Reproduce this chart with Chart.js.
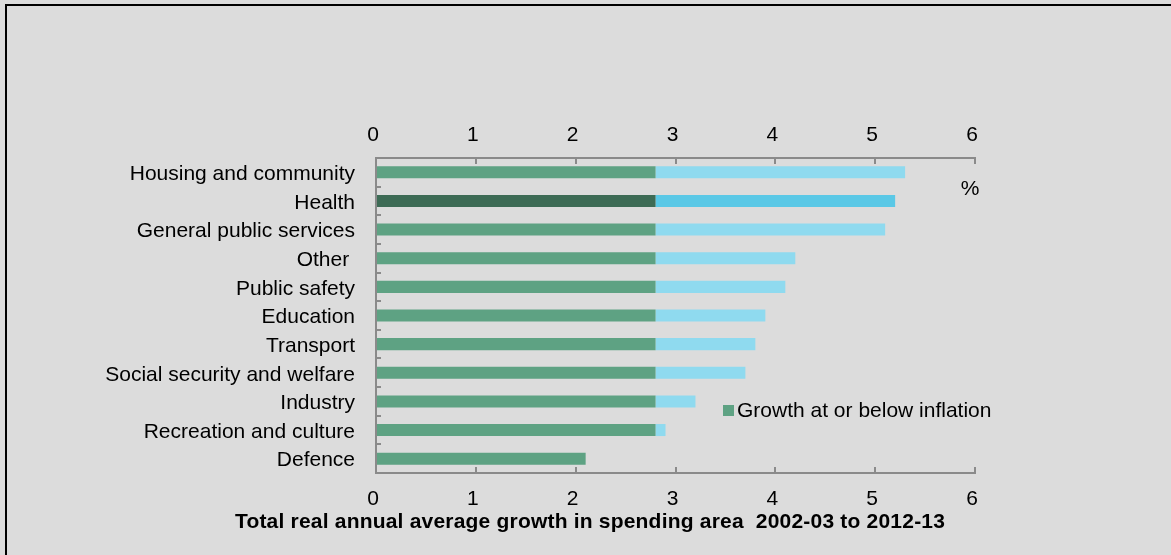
<!DOCTYPE html>
<html>
<head>
<meta charset="utf-8">
<script src="https://cdn.jsdelivr.net/npm/chart.js@4/dist/chart.umd.min.js"></script>
<style>
  html, body { margin: 0; padding: 0; background: #dcdcdc; }
  canvas { display: block; }
</style>
</head>
<body>
<canvas id="chart" width="1171" height="555"></canvas>
<script>
const categories = [
  "Housing and community",
  "Health",
  "General public services",
  "Other ",
  "Public safety",
  "Education",
  "Transport",
  "Social security and welfare",
  "Industry",
  "Recreation and culture",
  "Defence",
];
// growth up to inflation, and the part above it (% a year)
const atOrBelow = [2.8, 2.8, 2.8, 2.8, 2.8, 2.8, 2.8, 2.8, 2.8, 2.8, 2.1];
const aboveInflation = [2.5, 2.4, 2.3, 1.4, 1.3, 1.1, 1.0, 0.9, 0.4, 0.1, 0];
const xTicks = [0, 1, 2, 3, 4, 5, 6];

const FONT = "'Liberation Sans', Arial, sans-serif";
const greens = categories.map((c) => (c === "Health" ? "#3d6b55" : "#5ea283"));
const blues = categories.map((c) => (c === "Health" ? "#5ac8e6" : "#8fdaef"));

// background, frame, unit, legend and axis caption
const decorations = {
  id: "decorations",
  beforeDraw(chart) {
    const ctx = chart.ctx;
    ctx.save();
    ctx.fillStyle = "#dcdcdc";
    ctx.fillRect(0, 0, chart.width, chart.height);
    ctx.fillStyle = "#000";
    ctx.fillRect(5, 4, chart.width - 5, 2);
    ctx.fillRect(5, 4, 2, chart.height - 4);
    ctx.restore();
  },
  afterDraw(chart) {
    const ctx = chart.ctx;
    ctx.save();
    ctx.fillStyle = "#000";
    ctx.textBaseline = "middle";
    ctx.font = "21px " + FONT;
    ctx.textAlign = "center";
    ctx.fillText("%", 970, 189);

    ctx.fillStyle = "#5ea283";
    ctx.fillRect(723, 405, 11, 11);
    ctx.fillStyle = "#000";
    ctx.textAlign = "left";
    ctx.fillText("Growth at or below inflation", 737, 411);

    ctx.font = "bold 21px " + FONT;
    ctx.letterSpacing = "0.2px";
    ctx.textAlign = "center";
    ctx.fillText("Total real annual average growth in spending area  2002-03 to 2012-13", 590, 522);
    ctx.restore();
  },
};

const axisColor = "#8a8a8a";
const tickFont = { family: FONT, size: 21 };

function valueAxis(position, pad) {
  return {
    type: "linear",
    position: position,
    stacked: true,
    min: 0,
    max: 6,
    afterBuildTicks: (axis) => {
      axis.ticks = xTicks.map((v) => ({ value: v }));
    },
    afterFit: (axis) => {
      axis.height = 40;
    },
    ticks: { color: "#000", font: tickFont, padding: pad, labelOffset: -3 },
    grid: { drawOnChartArea: false, tickLength: -6, color: axisColor, lineWidth: 2 },
    border: { color: axisColor, width: 2 },
  };
}

new Chart(document.getElementById("chart"), {
  type: "bar",
  data: {
    labels: categories,
    datasets: [
      {
        label: "Growth at or below inflation",
        data: atOrBelow,
        backgroundColor: greens,
        barPercentage: 0.42,
        categoryPercentage: 1,
        xAxisID: "x",
      },
      {
        label: "Growth above inflation",
        data: aboveInflation,
        backgroundColor: blues,
        barPercentage: 0.42,
        categoryPercentage: 1,
        xAxisID: "x",
      },
    ],
  },
  options: {
    indexAxis: "y",
    responsive: false,
    animation: false,
    layout: { padding: { top: 118, bottom: 42, left: 0, right: 196 } },
    plugins: {
      legend: { display: false },
      tooltip: { enabled: false },
    },
    scales: {
      x: valueAxis("bottom", 20),
      x2: valueAxis("top", 16),
      y: {
        stacked: true,
        afterFit: (axis) => {
          axis.width = 376;
        },
        ticks: { color: "#000", font: tickFont, padding: 26, labelOffset: 2 },
        grid: { drawOnChartArea: false, tickLength: -5, color: axisColor, lineWidth: 2, offset: true },
        border: { color: axisColor, width: 2 },
      },
    },
  },
  plugins: [decorations],
});
</script>
</body>
</html>
